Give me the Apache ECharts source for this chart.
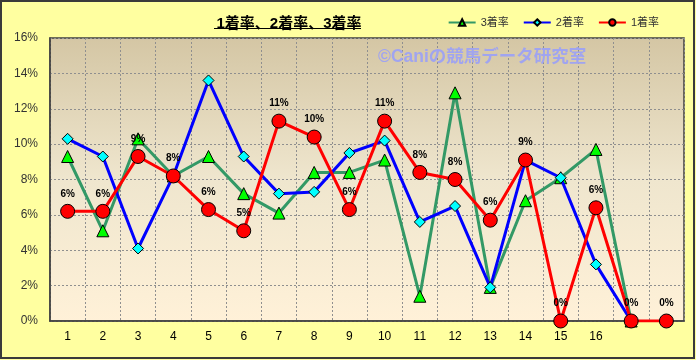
<!DOCTYPE html>
<html>
<head>
<meta charset="utf-8">
<script src="https://cdn.jsdelivr.net/npm/echarts@6/dist/echarts.min.js"></script>
<style>
html,body{margin:0;padding:0;background:#FFFFA0;}
#c{width:696px;height:360px;}
</style>
</head>
<body>
<div id="c"></div>
<script>
const categories = ['1','2','3','4','5','6','7','8','9','10','11','12','13','14','15','16','',''];
const rate1 = [6.2,6.2,9.3,8.2,6.3,5.1,11.3,10.4,6.3,11.3,8.4,8.0,5.7,9.1,0,6.4,0,0];
const rate2 = [10.3,9.3,4.1,8.2,13.6,9.3,7.2,7.3,9.5,10.2,5.6,6.5,1.9,9.1,8.1,3.2,0];
const rate3 = [9.3,5.1,10.3,8.2,9.3,7.2,6.1,8.4,8.4,9.1,1.4,12.9,1.9,6.8,8.1,9.7,0];
const yTicks = {min:0, max:16, interval:2};

const FONT = "'Liberation Sans','Noto Sans CJK JP',sans-serif";
const chart = echarts.init(document.getElementById('c'), null, {renderer:'canvas'});
chart.setOption({
  backgroundColor:'#FFFFA0',
  animation:false,
  title:{
    text:'1着率、2着率、3着率',
    left:284, top:11, textAlign:'center',
    textStyle:{fontFamily:FONT, fontSize:15, fontWeight:'bold', color:'#000'}
  },
  graphic:[
    {type:'rect', shape:{x:1,y:1,width:693,height:357}, style:{fill:'none', stroke:'#3a3a3a', lineWidth:2}, z:100},
    {type:'line', shape:{x1:214,y1:28.5,x2:361,y2:28.5}, style:{stroke:'#000', lineWidth:1}, z:100},
    {type:'text', left:378, top:48, style:{text:'©Caniの競馬データ研究室', fill:'#a0a4f0', font:"bold 17.5px 'Liberation Sans','Noto Sans CJK JP',sans-serif"}, z:50}
  ],
  legend:{
    right:32, top:12, itemWidth:27, itemHeight:8, itemGap:14,
    data:['3着率','2着率','1着率'],
    textStyle:{fontFamily:FONT, fontSize:11, color:'#333'}
  },
  grid:{
    left:50, right:12, top:38, bottom:39, show:true,
    borderColor:'#404040', borderWidth:1.5,
    backgroundColor:new echarts.graphic.LinearGradient(0,0,0,1,[
      {offset:0,color:'#D4C6A4'},{offset:0.5,color:'#EFE6CE'},{offset:1,color:'#FFF1D8'}
    ])
  },
  xAxis:{
    type:'category', data:categories, boundaryGap:true,
    axisLine:{lineStyle:{color:'#404040', width:1.5}},
    axisTick:{show:false},
    axisLabel:{fontFamily:FONT, fontSize:12, color:'#000', margin:10, interval:0},
    splitLine:{show:true, interval:0, lineStyle:{color:'#8f8f8f', type:[2,2], width:1}}
  },
  yAxis:{
    type:'value', min:yTicks.min, max:yTicks.max, interval:yTicks.interval,
    axisLine:{show:true, lineStyle:{color:'#404040', width:1.5}},
    axisTick:{show:false},
    axisLabel:{fontFamily:FONT, fontSize:12, color:'#333', formatter:'{value}%', margin:12},
    splitLine:{show:true, lineStyle:{color:'#8f8f8f', type:[2,2], width:1}}
  },
  series:[
    {name:'3着率', type:'line', data:rate3, symbol:'triangle', symbolSize:12,
     lineStyle:{color:'#339966', width:3}, itemStyle:{color:'#00FF00', borderColor:'#000', borderWidth:1}, z:2},
    {name:'2着率', type:'line', data:rate2, symbol:'diamond', symbolSize:11,
     lineStyle:{color:'#0000FF', width:3}, itemStyle:{color:'#00FFFF', borderColor:'#000', borderWidth:1}, z:3},
    {name:'1着率', type:'line', data:rate1, symbol:'circle', symbolSize:14,
     lineStyle:{color:'#FF0000', width:3}, itemStyle:{color:'#FF0000', borderColor:'#000', borderWidth:1}, z:4,
     label:{show:true, position:'top', distance:5, fontFamily:FONT, fontSize:10, fontWeight:'bold', color:'#000',
       formatter:p=>Math.round(p.value)+'%'}}
  ]
});
</script>
</body>
</html>
